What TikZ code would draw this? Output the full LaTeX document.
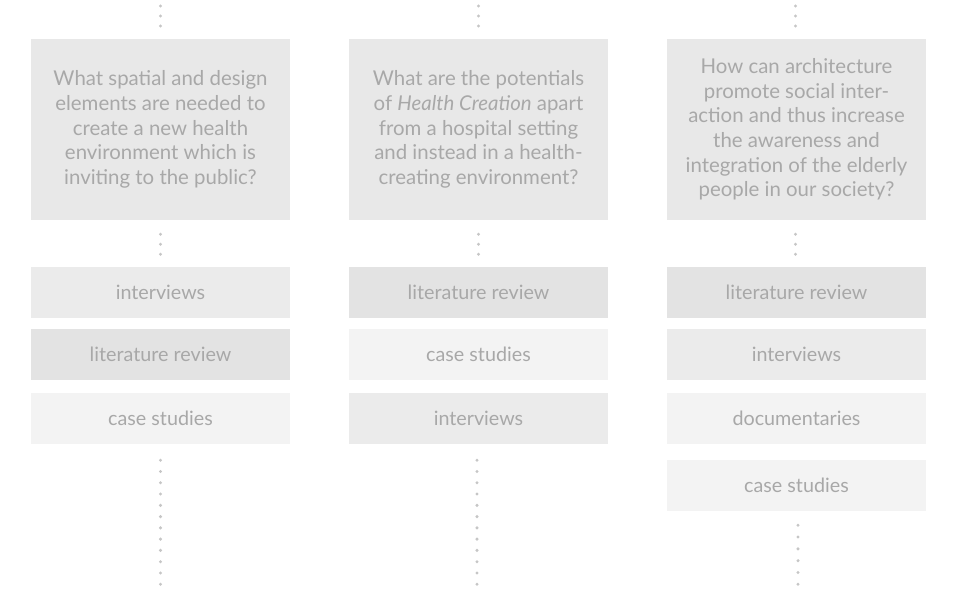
\documentclass[tikz,border=0pt]{standalone}
\usepackage{fontspec}
\setmainfont{Lato}
\usetikzlibrary{positioning}
\definecolor{qfill}{HTML}{E8E8E8}
\definecolor{litfill}{HTML}{E3E3E3}
\definecolor{intfill}{HTML}{EBEBEB}
\definecolor{casefill}{HTML}{F3F3F3}
\definecolor{txtgray}{HTML}{A8A8A8}
\definecolor{dotgray}{HTML}{C6C6C6}
\tikzset{
  qbox/.style={fill=qfill,text=txtgray,minimum width=194.25pt,minimum height=135.75pt,inner sep=0pt,align=center,font=\fontsize{15.3}{18.5}\selectfont},
  mbox/.style={fill=#1,text=txtgray,minimum width=194.25pt,minimum height=38.25pt,inner sep=0pt,font=\fontsize{14.8}{18.5}\selectfont},
  dotline/.style={dotgray,line width=2.5pt,line cap=round,dash pattern=on 0pt off #1}
}
\begin{document}
\begin{tikzpicture}[x=0.75pt,y=-0.75pt]
\useasboundingbox (0,0) rectangle (954,600);
% research questions
\node[qbox] (q1) at (160.5,129.5) {What spatial and design\\elements are needed to\\create a new health\\environment which is\\inviting to the public?};
\node[qbox] (q2) at (478.5,129.5) {What are the potentials\\of \textit{Health Creation} apart\\from a hospital setting\\and instead in a health-\\creating environment?};
\node[qbox] (q3) at (796.5,129.5) {How can architecture\\promote social inter-\\action and thus increase\\the awareness and\\integration of the elderly\\people in our society?};
% methods, column 1
\node[mbox=intfill] (a1) at (160.5,292.5) {interviews};
\node[mbox=litfill] (b1) at (160.5,354.5) {literature review};
\node[mbox=casefill] (c1) at (160.5,418.5) {case studies};
% methods, column 2
\node[mbox=litfill] (a2) at (478.5,292.5) {literature review};
\node[mbox=casefill] (b2) at (478.5,354.5) {case studies};
\node[mbox=intfill] (c2) at (478.5,418.5) {interviews};
% methods, column 3
\node[mbox=litfill] (a3) at (796.5,292.5) {literature review};
\node[mbox=intfill] (b3) at (796.5,354.5) {interviews};
\node[mbox=casefill] (c3) at (796.5,418.5) {documentaries};
\node[mbox=casefill] (d3) at (796.5,485.5) {case studies};
% free ends
\coordinate (t1) at (160.5,6);
\coordinate (t2) at (478.5,6);
\coordinate (t3) at (795.5,6);
\coordinate (e1) at (160.5,585.5);
\coordinate (e2) at (477,585.5);
\coordinate (e3) at (798,585.5);
% dotted links
\draw[dotline=7.5pt,shorten >=9pt] (t1) -- (q1.north);
\draw[dotline=7.5pt,shorten >=9pt] (t2) -- (q2.north);
\draw[dotline=7.5pt,shorten >=9pt] (t3) -- (q3.north -| t3);
\draw[dotline=7.5pt,shorten <=10.5pt,shorten >=9pt] (q1.south) -- (a1.north);
\draw[dotline=7.5pt,shorten <=10.5pt,shorten >=9pt] (q2.south) -- (a2.north);
\draw[dotline=7.5pt,shorten <=10.5pt,shorten >=9pt] (q3.south -| t3) -- (a3.north -| t3);
\draw[dotline=8.45pt,shorten <=12pt] (c1.south) -- (e1);
\draw[dotline=8.45pt,shorten <=12pt] (c2.south -| e2) -- (e2);
\draw[dotline=8.85pt,shorten <=10.5pt] (d3.south -| e3) -- (e3);
\end{tikzpicture}
\end{document}
